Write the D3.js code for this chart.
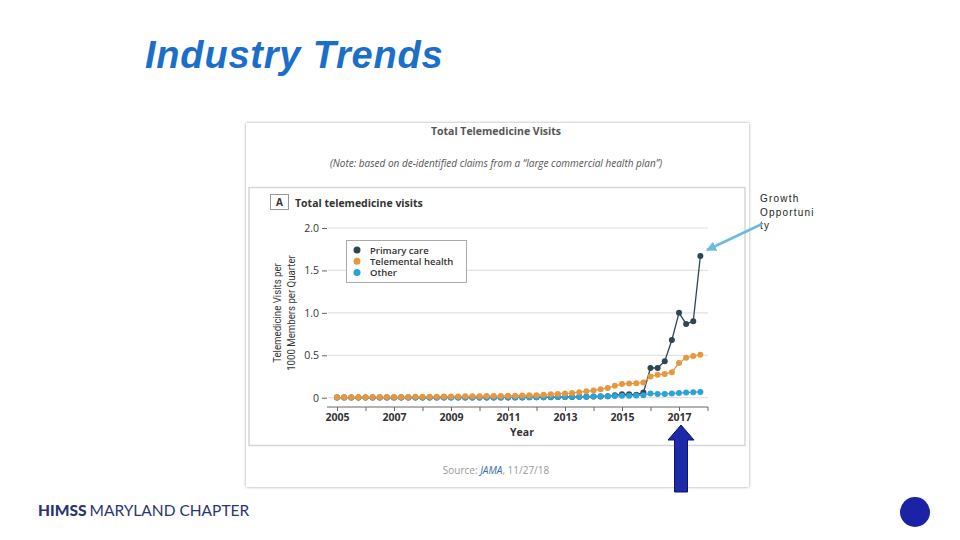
<!DOCTYPE html>
<html><head><meta charset="utf-8">
<script src="https://cdn.jsdelivr.net/npm/d3@7/dist/d3.min.js"></script>
<style>html,body{margin:0;padding:0;background:#fff;}svg{display:block;}</style>
</head><body>
<script>
const quarters = [
"2005Q1","2005Q2","2005Q3","2005Q4","2006Q1","2006Q2","2006Q3","2006Q4",
"2007Q1","2007Q2","2007Q3","2007Q4","2008Q1","2008Q2","2008Q3","2008Q4",
"2009Q1","2009Q2","2009Q3","2009Q4","2010Q1","2010Q2","2010Q3","2010Q4",
"2011Q1","2011Q2","2011Q3","2011Q4","2012Q1","2012Q2","2012Q3","2012Q4",
"2013Q1","2013Q2","2013Q3","2013Q4","2014Q1","2014Q2","2014Q3","2014Q4",
"2015Q1","2015Q2","2015Q3","2015Q4","2016Q1","2016Q2","2016Q3","2016Q4",
"2017Q1","2017Q2","2017Q3","2017Q4"];
const primaryCare = [
0.001,0.001,0.001,0.001, 0.001,0.001,0.001,0.001,
0.001,0.001,0.001,0.001, 0.001,0.001,0.001,0.001,
0.002,0.002,0.002,0.002, 0.002,0.002,0.002,0.002,
0.003,0.003,0.003,0.004, 0.004,0.005,0.006,0.007,
0.008,0.009,0.01,0.011, 0.013,0.015,0.018,0.03,
0.04,0.04,0.035,0.06, 0.35,0.35,0.43,0.68,
1.0,0.87,0.9,1.67];
const telementalHealth = [
0.005,0.005,0.005,0.006, 0.006,0.007,0.007,0.008,
0.008,0.009,0.009,0.01, 0.01,0.011,0.012,0.013,
0.014,0.015,0.016,0.017, 0.018,0.019,0.02,0.021,
0.022,0.024,0.026,0.028, 0.03,0.035,0.04,0.045,
0.05,0.055,0.065,0.075, 0.085,0.1,0.115,0.14,
0.16,0.167,0.17,0.18, 0.25,0.27,0.28,0.30,
0.41,0.47,0.49,0.505];
const other = [
0.002,0.002,0.002,0.002, 0.002,0.002,0.002,0.002,
0.002,0.002,0.002,0.002, 0.002,0.002,0.002,0.002,
0.003,0.003,0.003,0.003, 0.003,0.003,0.003,0.003,
0.004,0.004,0.004,0.005, 0.005,0.006,0.007,0.008,
0.009,0.01,0.011,0.012, 0.014,0.016,0.018,0.02,
0.022,0.024,0.026,0.03, 0.05,0.045,0.045,0.05,
0.055,0.06,0.065,0.068];
const seriesNames = ["Primary care","Telemental health","Other"];
const seriesColors = ["#2d4652","#e8973f","#2aa3d6"];
const xTicks = [2005,2006,2007,2008,2009,2010,2011,2012,2013,2014,2015,2016,2017,2018];
const xTickLabels = ["2005","2007","2009","2011","2013","2015","2017"];
const yTicks = [0,0.5,1.0,1.5,2.0];
const yTickLabels = ["0","0.5","1.0","1.5","2.0"];

const svg = d3.select("body").append("svg").attr("width",960).attr("height",540);

// Slide title
svg.append("text").attr("x",145).attr("y",68)
  .attr("font-family","Liberation Sans, Arial, sans-serif").attr("font-size",38)
  .attr("font-weight","bold").attr("font-style","italic").attr("fill","#1b6fc8")
  .attr("letter-spacing",0.8)
  .text("Industry Trends");

// Card with shadow
const defs = svg.append("defs");
const f = defs.append("filter").attr("id","sh").attr("x","-5%").attr("y","-5%").attr("width","110%").attr("height","110%");
f.append("feDropShadow").attr("dx",0).attr("dy",0).attr("stdDeviation",1.6).attr("flood-color","#888").attr("flood-opacity",0.8);
svg.append("rect").attr("x",246).attr("y",123).attr("width",503).attr("height",364)
  .attr("fill","#fff").attr("filter","url(#sh)");

const cf = "Open Sans, Noto Sans, sans-serif";
svg.append("text").attr("x",496).attr("y",135).attr("text-anchor","middle")
  .attr("font-family",cf).attr("font-size",10.5).attr("font-weight","bold").attr("fill","#555")
  .text("Total Telemedicine Visits");
svg.append("text").attr("x",496).attr("y",167).attr("text-anchor","middle")
  .attr("font-family",cf).attr("font-size",10).attr("font-style","italic").attr("fill","#555")
  .text("(Note: based on de-identified claims from a \u201clarge commercial health plan\u201d)");

// inner panel
svg.append("rect").attr("x",249).attr("y",187.5).attr("width",496).attr("height",258)
  .attr("fill","#fff").attr("stroke","#d6d6d6").attr("stroke-width",1.5);
svg.append("rect").attr("x",270.5).attr("y",194.5).attr("width",18).attr("height",15)
  .attr("fill","#fff").attr("stroke","#999");
svg.append("text").attr("x",279.5).attr("y",206).attr("text-anchor","middle")
  .attr("font-family",cf).attr("font-size",10).attr("font-weight","bold").attr("fill","#333").text("A");
svg.append("text").attr("x",295).attr("y",207).attr("font-family",cf).attr("font-size",10.5)
  .attr("font-weight","bold").attr("fill","#333").text("Total telemedicine visits");

// scales
const x = d3.scaleLinear().domain([2005,2017]).range([337,679]);
const y = d3.scaleLinear().domain([0,2]).range([397.7,228]);
const tq = q => +q.slice(0,4) + (+q.slice(5)-1)/4;

// gridlines
svg.append("g").selectAll("line").data(yTicks).join("line")
  .attr("x1",328).attr("x2",708).attr("y1",d=>y(d)).attr("y2",d=>y(d))
  .attr("stroke","#e2e2e2").attr("stroke-width",1.2);

// y axis ticks
const yAxis = d3.axisLeft(y).tickValues(yTicks).tickSize(5).tickPadding(3)
  .tickFormat((d,i)=>yTickLabels[i]);
const yg = svg.append("g").attr("transform","translate(327,0)").call(yAxis);
yg.select(".domain").remove();
yg.selectAll("line").attr("stroke","#666");
yg.selectAll("text").attr("font-family",cf).attr("font-size",10.5).attr("fill","#333");

// x axis
const xAxis = d3.axisBottom(x).tickValues(xTicks).tickSize(4).tickPadding(3)
  .tickFormat(d => xTickLabels.includes(String(d)) ? String(d) : "");
const xg = svg.append("g").attr("transform","translate(0,407)").call(xAxis);
xg.select(".domain").attr("d","M327,0H708").attr("stroke","#666");
xg.selectAll("line").attr("stroke","#666");
xg.selectAll("text").attr("font-family",cf).attr("font-size",10.5).attr("font-weight","bold").attr("fill","#333");
svg.append("text").attr("x",522).attr("y",436).attr("text-anchor","middle")
  .attr("font-family",cf).attr("font-size",10.5).attr("font-weight","bold").attr("fill","#333").text("Year");

// y label
const yl = svg.append("text").attr("transform","translate(281,313) rotate(-90) scale(0.92,1)")
  .attr("text-anchor","middle").attr("font-family","Roboto, Liberation Sans Narrow, sans-serif")
  .attr("font-size",10.5).attr("fill","#333");
yl.append("tspan").attr("x",0).attr("y",0).text("Telemedicine Visits per");
yl.append("tspan").attr("x",0).attr("y",14).text("1000 Members per Quarter");

// series (draw order: primary care, other, telemental on top)
const line = d3.line().x((d,i)=>x(tq(quarters[i]))).y(d=>y(d));
[[primaryCare,0],[other,2],[telementalHealth,1]].forEach(([s,k])=>{
  const g = svg.append("g");
  g.append("path").datum(s).attr("d",line).attr("fill","none")
    .attr("stroke",seriesColors[k]).attr("stroke-width",1.3);
  g.selectAll("circle").data(s).join("circle")
    .attr("cx",(d,i)=>x(tq(quarters[i]))).attr("cy",d=>y(d)).attr("r",3)
    .attr("fill",seriesColors[k]);
});

// legend
svg.append("rect").attr("x",346.5).attr("y",240.5).attr("width",120).attr("height",42)
  .attr("fill","#fff").attr("stroke","#aaa");
seriesNames.forEach((n,i)=>{
  svg.append("circle").attr("cx",357).attr("cy",250+i*11.3).attr("r",3.5).attr("fill",seriesColors[i]);
  svg.append("text").attr("x",370).attr("y",253.5+i*11.3).attr("font-family",cf)
    .attr("font-size",9.5).attr("font-weight","600").attr("fill","#333").text(n);
});

// source
const src = svg.append("text").attr("x",496).attr("y",474).attr("text-anchor","middle")
  .attr("font-family",cf).attr("font-size",10).attr("fill","#999");
src.append("tspan").text("Source: ");
src.append("tspan").attr("font-style","italic").attr("fill","#3a6ea5").text("JAMA");
src.append("tspan").text(", 11/27/18");

// Growth Opportunity annotation
const ga = svg.append("text").attr("font-family","Liberation Sans, Arial, sans-serif")
  .attr("font-size",10).attr("fill","#222").attr("letter-spacing",1.2);
["Growth","Opportuni","ty"].forEach((t,i)=>ga.append("tspan").attr("x",760).attr("y",202+i*13.5).text(t));
defs.append("marker").attr("id","ah").attr("viewBox","0 0 10 10").attr("refX",9).attr("refY",5)
  .attr("markerWidth",4).attr("markerHeight",4).attr("orient","auto")
  .append("path").attr("d","M0,0L10,5L0,10z").attr("fill","#6cbadf");
svg.append("line").attr("x1",762).attr("y1",224).attr("x2",707).attr("y2",250)
  .attr("stroke","#6cbadf").attr("stroke-width",2.5).attr("marker-end","url(#ah)");

// Blue up arrow
svg.append("path").attr("d","M681,425 L694,440 L687.5,440 L687.5,492 L674.5,492 L674.5,440 L668,440 Z")
  .attr("fill","#1c2aa8").attr("stroke","#0d1570").attr("stroke-width",1);

// Footer
const ft = svg.append("text").attr("x",38).attr("y",516).attr("font-family","Lato, Open Sans, sans-serif")
  .attr("font-size",15.5).attr("fill","#2a3572");
ft.append("tspan").attr("font-weight","900").text("HIMSS");
ft.append("tspan").attr("dx",3).text("MARYLAND CHAPTER");

svg.append("circle").attr("cx",915).attr("cy",512).attr("r",15).attr("fill","#1a22a6");
</script>
</body></html>
